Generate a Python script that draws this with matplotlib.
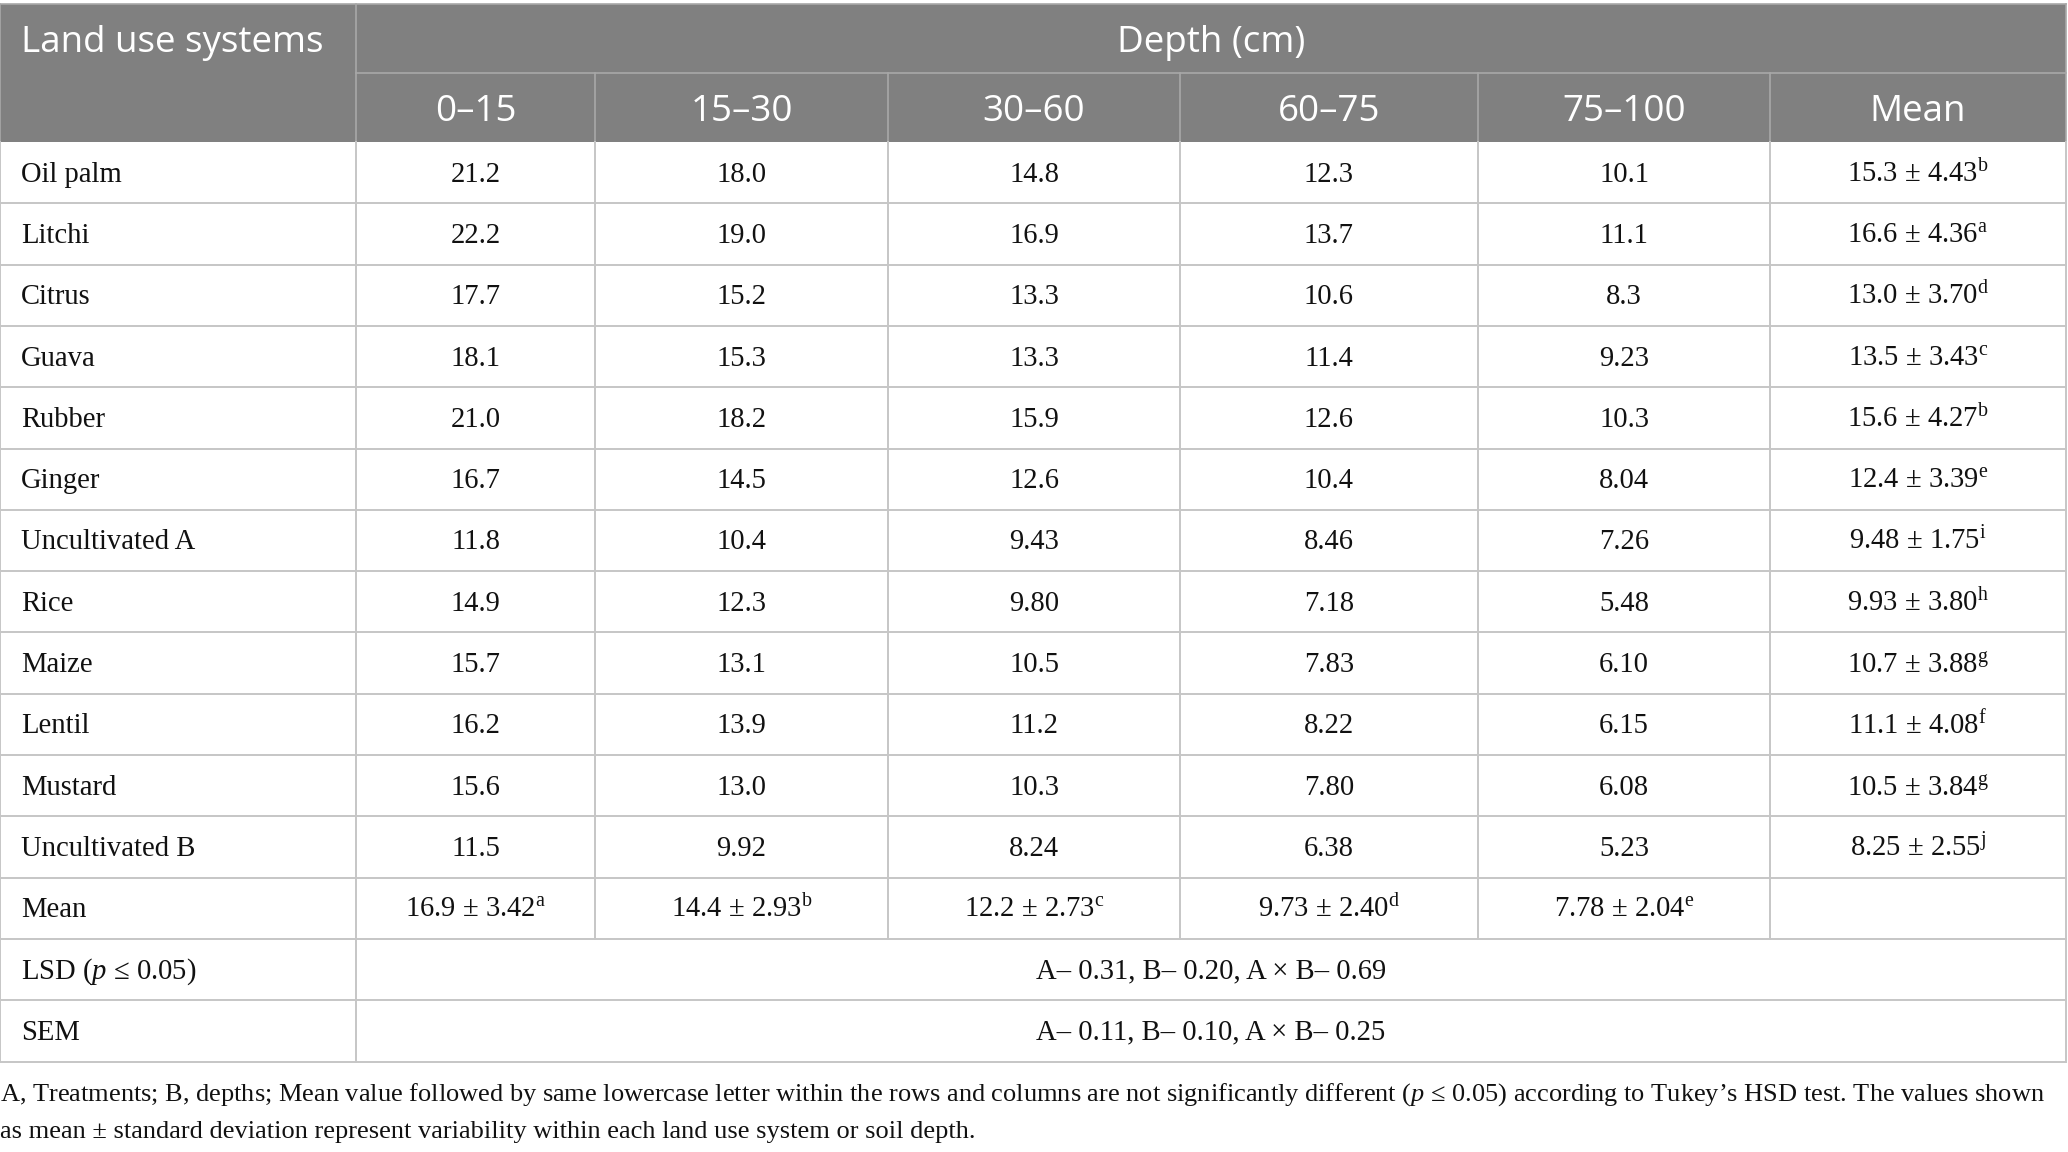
import matplotlib.pyplot as plt
from matplotlib.patches import Rectangle

plt.rcParams['mathtext.fontset'] = 'custom'
plt.rcParams['mathtext.rm'] = 'Liberation Serif'
plt.rcParams['mathtext.it'] = 'Liberation Serif:italic'

# table content
systems = ["Oil palm", "Litchi", "Citrus", "Guava", "Rubber", "Ginger",
           "Uncultivated A", "Rice", "Maize", "Lentil", "Mustard", "Uncultivated B"]
depths = ["0\u201315", "15\u201330", "30\u201360", "60\u201375", "75\u2013100", "Mean"]

d0_15 = ["21.2", "22.2", "17.7", "18.1", "21.0", "16.7", "11.8", "14.9", "15.7", "16.2", "15.6", "11.5"]
d15_30 = ["18.0", "19.0", "15.2", "15.3", "18.2", "14.5", "10.4", "12.3", "13.1", "13.9", "13.0", "9.92"]
d30_60 = ["14.8", "16.9", "13.3", "13.3", "15.9", "12.6", "9.43", "9.80", "10.5", "11.2", "10.3", "8.24"]
d60_75 = ["12.3", "13.7", "10.6", "11.4", "12.6", "10.4", "8.46", "7.18", "7.83", "8.22", "7.80", "6.38"]
d75_100 = ["10.1", "11.1", "8.3", "9.23", "10.3", "8.04", "7.26", "5.48", "6.10", "6.15", "6.08", "5.23"]

row_mean = ["15.3", "16.6", "13.0", "13.5", "15.6", "12.4", "9.48", "9.93", "10.7", "11.1", "10.5", "8.25"]
row_sd = ["4.43", "4.36", "3.70", "3.43", "4.27", "3.39", "1.75", "3.80", "3.88", "4.08", "3.84", "2.55"]
row_letter = ["b", "a", "d", "c", "b", "e", "i", "h", "g", "f", "g", "j"]

col_mean = ["16.9", "14.4", "12.2", "9.73", "7.78"]
col_sd = ["3.42", "2.93", "2.73", "2.40", "2.04"]
col_letter = ["a", "b", "c", "d", "e"]

lsd_text = "A\u2013 0.31, B\u2013 0.20, A \u00d7 B\u2013 0.69"
sem_text = "A\u2013 0.11, B\u2013 0.10, A \u00d7 B\u2013 0.25"

footer1 = ("A, Treatments; B, depths; Mean value followed by same lowercase letter within the rows and "
           "columns are not significantly different ($p$ \u2264 0.05) according to Tukey\u2019s HSD test. "
           "The values shown")
footer2 = "as mean \u00b1 standard deviation represent variability within each land use system or soil depth."

# layout (pixels)
W, H = 2068, 1152
col_edges = [0, 356, 595, 888, 1180, 1478, 1770, 2066]
head_top, head_mid, head_bot = 4, 72.5, 142
row_h = 61.3
grey = "#808080"
head_line = "#a8a8a8"
grid = "#c6c6c6"
ink = "#111111"
serif = ["Liberation Serif", "DejaVu Serif"]
sans = ["Open Sans", "DejaVu Sans"]
body_size = 20.6
head_size = 26.5

fig = plt.figure(figsize=(W / 100, H / 100), dpi=100)
ax = fig.add_axes([0, 0, 1, 1])
ax.set_xlim(0, W)
ax.set_ylim(H, 0)
ax.axis("off")

# header
ax.add_patch(Rectangle((col_edges[0], head_top), col_edges[-1] - col_edges[0],
                       head_bot - head_top, facecolor=grey, edgecolor="none"))
ax.plot([col_edges[0], col_edges[-1]], [head_top, head_top], color=head_line, lw=1.2)
ax.plot([col_edges[1], col_edges[-1]], [head_mid, head_mid], color=head_line, lw=1.2)
ax.plot([col_edges[1], col_edges[1]], [head_top, head_bot], color=head_line, lw=1.2)
for x in col_edges[2:-1]:
    ax.plot([x, x], [head_mid, head_bot], color=head_line, lw=1.2)
for x in (col_edges[0], col_edges[-1]):
    ax.plot([x, x], [head_top, head_bot], color=head_line, lw=1.2)

head_off = 14
ax.text(21, (head_top + head_mid) / 2 + head_off, "Land use systems", family=sans,
        fontsize=head_size, color="white", va="baseline", ha="left")
ax.text((col_edges[1] + col_edges[-1]) / 2, (head_top + head_mid) / 2 + head_off, "Depth (cm)",
        family=sans, fontsize=head_size, color="white", va="baseline", ha="center")
for i, lab in enumerate(depths):
    cx = (col_edges[i + 1] + col_edges[i + 2]) / 2
    ax.text(cx, (head_mid + head_bot) / 2 + head_off, lab, family=sans, fontsize=head_size,
            color="white", va="baseline", ha="center")

# body rows
n_rows = len(systems) + 3
row_tops = [head_bot + k * row_h for k in range(n_rows + 1)]
for y in row_tops[1:]:
    ax.plot([col_edges[0], col_edges[-1]], [y, y], color=grid, lw=1.4)
for k in range(n_rows):
    edges = col_edges if k <= len(systems) else [col_edges[0], col_edges[1], col_edges[-1]]
    for x in edges:
        ax.plot([x, x], [row_tops[k], row_tops[k + 1]], color=grid, lw=1.4)


def cell(col, k, s, ha="center", span=1):
    yb = (row_tops[k] + row_tops[k + 1]) / 2 + 9
    if ha == "left":
        x = col_edges[col] + 21
    else:
        x = (col_edges[col] + col_edges[col + span]) / 2
    ax.text(x, yb, s, family=serif, fontsize=body_size, color=ink, ha=ha, va="baseline")


columns = [d0_15, d15_30, d30_60, d60_75, d75_100]
for k, name in enumerate(systems):
    cell(0, k, name, ha="left")
    for j, col in enumerate(columns):
        cell(j + 1, k, col[k])
    cell(6, k, f"{row_mean[k]} \u00b1 {row_sd[k]}$^{{\\rm {row_letter[k]}}}$")

k = len(systems)
cell(0, k, "Mean", ha="left")
for j in range(len(col_mean)):
    cell(j + 1, k, f"{col_mean[j]} \u00b1 {col_sd[j]}$^{{\\rm {col_letter[j]}}}$")

cell(0, k + 1, "LSD ($p$ \u2264 0.05)", ha="left")
cell(1, k + 1, lsd_text, span=6)
cell(0, k + 2, "SEM", ha="left")
cell(1, k + 2, sem_text, span=6)

# footnote, fitted to the table width
t1 = ax.text(0, 1101, footer1, family=serif, fontsize=body_size, color=ink,
             ha="left", va="baseline")
t2 = ax.text(0, 1138, footer2, family=serif, fontsize=body_size, color=ink,
             ha="left", va="baseline")
fig.canvas.draw()
w = t1.get_window_extent(fig.canvas.get_renderer()).width
fs = body_size * 2052 / w
t1.set_fontsize(fs)
t2.set_fontsize(fs)

fig.savefig("out.png", dpi=100, facecolor="white")
